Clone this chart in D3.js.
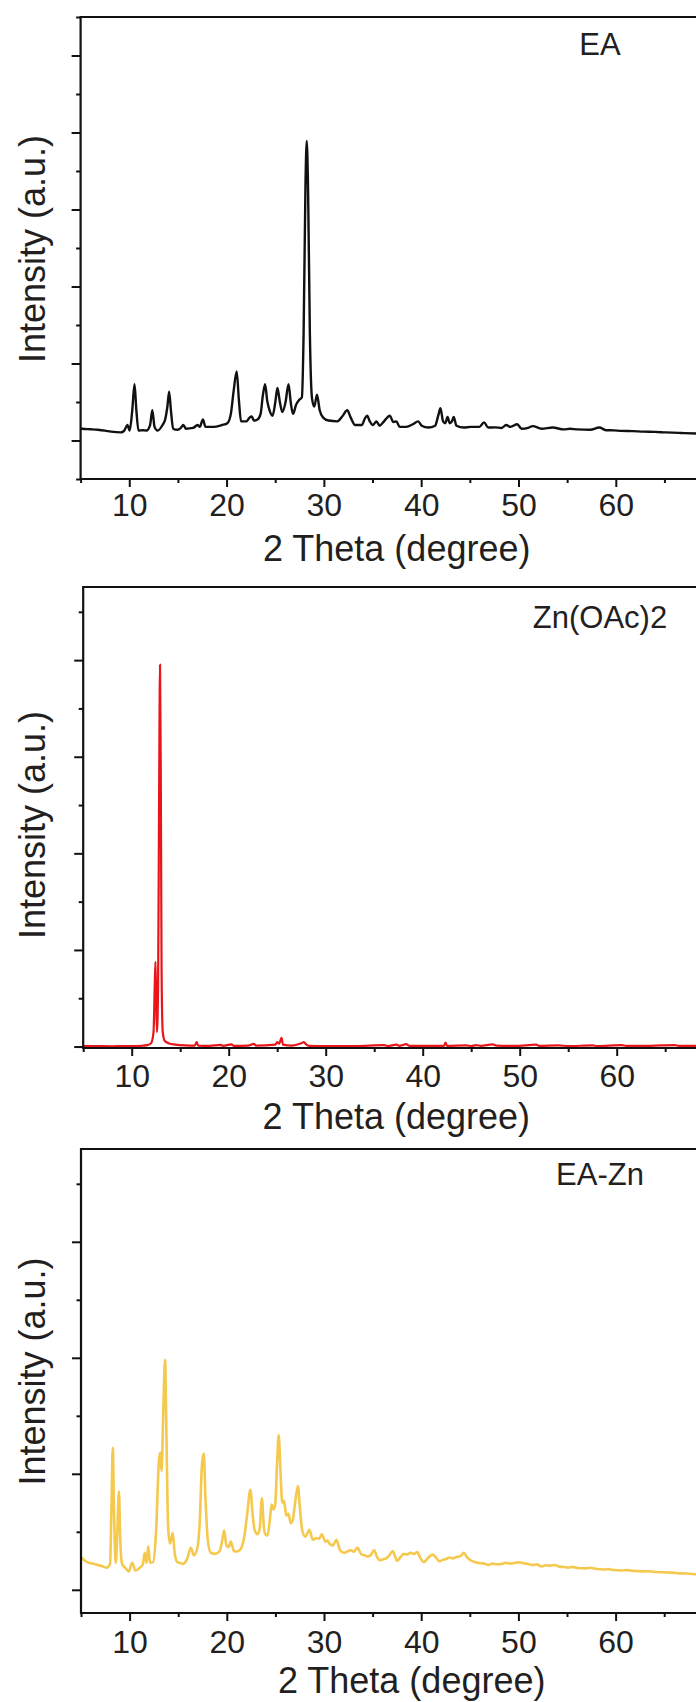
<!DOCTYPE html>
<html>
<head>
<meta charset="utf-8">
<script src="https://cdn.jsdelivr.net/npm/d3@7"></script>
<style>
  html, body { margin: 0; padding: 0; background: #ffffff; }
  svg { display: block; }
  text { font-family: "Liberation Sans", Arial, sans-serif; fill: #231f20; }
</style>
</head>
<body>
<svg id="chart" width="696" height="1702"></svg>
<script>
// Powder XRD patterns: [2θ (degree), intensity (a.u.)]
const sampleNames = ["EA", "Zn(OAc)2", "EA-Zn"];
const xTickValues = [10, 20, 30, 40, 50, 60];

const eaPattern = [
  [5.0,156],[5.16,153],[6.0,146],[6.76,139],[7.5,128],[8.13,115],[9.13,105],[9.49,129],[9.81,201],[10.04,129],
  [10.31,394],[10.54,730],[10.73,394],[10.95,129],[11.4,134],[11.77,129],[12.14,201],[12.37,394],
  [12.6,177],[12.92,129],[13.42,201],[13.69,273],[13.92,442],[14.1,634],[14.28,394],[14.51,153],
  [14.97,139],[15.29,163],[15.56,201],[15.83,153],[16.56,163],[17.02,201],[17.25,177],[17.57,273],
  [17.84,177],[18.62,177],[19.53,201],[20.08,225],[20.44,346],[20.72,634],[21.04,898],[21.26,538],
  [21.49,249],[22.04,249],[22.36,297],[22.59,312],[22.81,259],[23.18,273],[23.5,346],[23.73,586],
  [23.96,730],[24.18,514],[24.41,394],[24.73,322],[25.0,490],[25.23,682],[25.46,514],[25.73,370],
  [26.05,490],[26.37,730],[26.6,490],[26.83,346],[27.15,466],[27.47,528],[27.74,562],[27.92,1403],
  [28.11,3325],[28.24,3891],[28.38,3229],[28.56,1403],[28.79,538],[29.02,442],[29.29,595],[29.57,394],
  [29.93,297],[30.48,259],[31.39,249],[31.94,322],[32.4,394],[32.76,297],[33.22,201],[33.9,201],
  [34.22,288],[34.45,322],[34.72,249],[35.04,201],[35.41,249],[35.72,192],[36.18,249],[36.77,322],
  [37.14,240],[37.46,249],[37.78,177],[38.46,177],[39.15,211],[39.69,249],[40.06,192],[40.74,168],
  [41.43,192],[41.75,322],[41.98,418],[42.25,249],[42.48,225],[42.71,307],[42.93,225],[43.16,249],
  [43.34,307],[43.62,192],[44.39,168],[45.08,177],[45.99,177],[46.45,235],[46.9,168],[47.6,170],
  [48.27,163],[48.73,201],[49.18,177],[49.87,211],[50.32,153],[51.0,165],[51.47,187],[52.38,153],
  [53.52,168],[54.66,144],[55.3,152],[56.03,144],[57.39,139],[58.31,168],[58.99,134],[59.8,131],
  [60.59,125],[61.7,122],[62.87,115],[64.0,112],[65.15,105],[66.7,98],[68.25,91],[70.0,86]
];

const znPattern = [
  [5.0,5],[6.5,4],[8.0,3],[9.0,5],[10.0,5],[11.0,8],[11.6,15],[12.0,35],[12.25,150],[12.38,650],
  [12.45,877],[12.52,500],[12.6,150],[12.72,600],[12.82,2500],[12.92,3953],[13.0,2800],[13.08,800],
  [13.2,150],[13.4,60],[13.8,35],[14.5,20],[15.5,12],[16.5,10],[16.7,45],[16.85,10],[18.0,8],
  [19.2,18],[19.4,8],[20.3,22],[20.5,8],[22.0,10],[22.6,28],[22.8,10],[24.8,20],[25.0,45],
  [25.2,30],[25.45,90],[25.6,20],[26.5,10],[27.5,35],[27.75,45],[28.0,20],[28.3,8],[30.0,5],
  [33.0,5],[36.0,15],[36.4,5],[37.3,20],[37.6,8],[38.3,25],[38.6,8],[40.0,6],[42.2,8],[42.35,40],
  [42.5,8],[44.5,12],[45.0,5],[45.5,15],[46.0,6],[47.2,22],[47.6,10],[49.5,6],[51.7,20],[52.0,8],
  [54.0,12],[55.0,5],[57.5,12],[58.0,5],[60.5,15],[61.0,6],[63.5,8],[66.0,15],[66.4,6],[68.5,8],[70.0,6]
];

const eaZnPattern = [
  [5.0,280],[5.12,271],[5.45,248],[5.8,233],[6.2,226],[6.71,214],[7.1,206],[7.63,191],[7.99,223],
  [8.13,687],[8.27,1225],[8.4,655],[8.58,233],[8.72,463],[8.9,847],[9.04,431],[9.23,223],[9.55,190],
  [9.91,159],[10.27,233],[10.6,166],[11.05,191],[11.37,223],[11.55,319],[11.74,233],[11.92,374],
  [12.1,233],[12.42,239],[12.74,527],[13.01,1103],[13.15,1183],[13.29,1023],[13.47,1551],[13.65,1983],
  [13.79,1327],[13.97,527],[14.16,399],[14.43,489],[14.66,303],[14.93,239],[15.2,232],[15.48,223],
  [15.94,271],[16.3,361],[16.62,297],[16.99,367],[17.22,591],[17.44,1071],[17.63,1174],[17.81,783],
  [18.04,431],[18.36,319],[18.81,310],[19.27,335],[19.5,415],[19.73,511],[19.96,383],[20.18,367],
  [20.41,415],[20.73,335],[21.0,330],[21.32,341],[21.78,447],[22.1,655],[22.42,863],[22.65,655],
  [22.88,511],[23.15,479],[23.38,527],[23.61,789],[23.79,559],[23.97,479],[24.2,469],[24.43,607],
  [24.61,735],[24.8,693],[24.98,735],[25.16,1071],[25.34,1334],[25.53,1007],[25.71,751],[25.89,767],
  [26.12,639],[26.35,655],[26.58,575],[26.8,607],[27.03,751],[27.31,895],[27.54,687],[27.76,511],
  [28.08,457],[28.3,490],[28.49,517],[28.86,431],[29.23,447],[29.5,440],[29.77,479],[30.14,415],
  [30.35,425],[30.55,399],[30.92,383],[31.28,431],[31.6,351],[32.06,319],[32.4,330],[32.74,341],
  [33.06,329],[33.43,361],[33.88,303],[34.2,298],[34.48,287],[34.8,300],[35.16,341],[35.45,285],
  [35.71,255],[36.0,262],[36.4,271],[36.75,300],[37.08,335],[37.3,290],[37.54,249],[37.9,285],
  [38.22,310],[38.55,305],[38.9,319],[39.25,308],[39.59,326],[39.9,275],[40.27,239],[40.5,255],
  [40.73,277],[41.19,303],[41.5,280],[41.87,246],[42.2,258],[42.56,265],[42.9,278],[43.25,271],
  [43.6,283],[43.93,287],[44.15,298],[44.38,319],[44.7,282],[45.07,255],[45.5,240],[45.98,230],
  [46.4,228],[46.9,214],[47.3,226],[47.8,220],[48.27,223],[48.7,232],[49.2,226],[49.64,233],
  [50.1,236],[50.6,228],[51.01,223],[51.5,214],[51.9,219],[52.38,201],[52.8,212],[53.3,208],
  [53.75,214],[54.2,200],[54.7,196],[55.12,191],[55.6,198],[56.1,188],[56.94,185],[57.4,190],
  [57.9,181],[58.77,175],[59.3,178],[59.8,170],[60.6,166],[61.2,170],[61.8,163],[62.88,159],
  [63.5,160],[64.2,153],[65.16,150],[65.8,148],[66.6,142],[67.4,140],[68.27,134],[70.0,128]
];

// Panel frames (pixel layout of each stacked plot)
const panels = [
  { name: sampleNames[0], data: eaPattern, color: "#111111", width: 2.4,
    left: 80.6, right: 713.1, top: 17, bottom: 479,
    yDomain: [-500, 5500], yMajor: 1000,
    tickBase: 516, titleX: 396.7, titleBase: 560.5, yTitleMid: 249,
    labelBase: 55 },
  { name: sampleNames[1], data: znPattern, color: "#e8161b", width: 2.2,
    left: 83.2, right: 713.7, top: 587, bottom: 1048,
    yDomain: [-15, 4757], yMajor: 1000,
    tickBase: 1087, titleX: 396.3, titleBase: 1129, yTitleMid: 825,
    labelBase: 628 },
  { name: sampleNames[2], data: eaZnPattern, color: "#f5c94e", width: 2.6,
    left: 81, right: 712.8, top: 1149, bottom: 1613,
    yDomain: [-200, 3800], yMajor: 1000,
    tickBase: 1653, titleX: 411.7, titleBase: 1693, yTitleMid: 1371.5,
    labelBase: 1185 }
];

const svg = d3.select("#chart");
svg.append("rect").attr("width", 696).attr("height", 1702).attr("fill", "#ffffff");

panels.forEach(p => {
  const x = d3.scaleLinear().domain([5, 70]).range([p.left, p.right]);
  const y = d3.scaleLinear().domain(p.yDomain).range([p.bottom, p.top]);
  const g = svg.append("g");

  // clip the trace to the plot box
  const clipId = "clip-" + p.name.replace(/[^A-Za-z]/g, "");
  svg.append("clipPath").attr("id", clipId)
    .append("rect").attr("x", p.left).attr("y", p.top)
    .attr("width", p.right - p.left).attr("height", p.bottom - p.top);

  // diffraction trace
  const line = d3.line()
    .x(d => x(d[0])).y(d => y(d[1]))
    .curve(d3.curveMonotoneX);
  g.append("path")
    .datum(p.data)
    .attr("clip-path", `url(#${clipId})`)
    .attr("fill", "none")
    .attr("stroke", p.color)
    .attr("stroke-width", p.width)
    .attr("stroke-linejoin", "round")
    .attr("d", line);

  // x axis: labelled ticks every 10°, minor every 5°
  const xMinor = d3.range(5, 71, 5).filter(v => v % 10 !== 0);
  const xAxis = d3.axisBottom(x).tickValues(xTickValues).tickSize(8).tickFormat(d3.format("d"));
  const xAxisMinor = d3.axisBottom(x).tickValues(xMinor).tickSize(4).tickFormat("");
  const xAxisEnd = d3.axisBottom(x).tickValues([70]).tickSize(8).tickFormat("");
  const gx = g.append("g").attr("transform", `translate(0,${p.bottom})`).call(xAxis);
  g.append("g").attr("transform", `translate(0,${p.bottom})`).call(xAxisMinor);
  g.append("g").attr("transform", `translate(0,${p.bottom})`).call(xAxisEnd);
  gx.selectAll(".tick text")
    .attr("y", null).attr("dy", null)
    .attr("transform", `translate(0,${p.tickBase - p.bottom})`)
    .style("font-size", "32px").attr("fill", "#231f20");

  // y axis: unlabeled intensity ticks
  const yMajorTicks = d3.range(0, p.yDomain[1] + 1, p.yMajor);
  const yMinorTicks = d3.range(-p.yMajor / 2, p.yDomain[1] + 1, p.yMajor)
    .filter(v => v >= p.yDomain[0] - 1);
  const yAxis = d3.axisLeft(y).tickValues(yMajorTicks).tickSize(9).tickFormat("");
  const yAxisMinor = d3.axisLeft(y).tickValues(yMinorTicks).tickSize(4.5).tickFormat("");
  g.append("g").attr("transform", `translate(${p.left},0)`).call(yAxis);
  g.append("g").attr("transform", `translate(${p.left},0)`).call(yAxisMinor);

  g.selectAll(".domain").remove();
  g.selectAll(".tick line").attr("stroke", "#111").attr("stroke-width", 2);

  // plot frame: left, bottom and top edges (right edge lies beyond the page)
  g.append("path")
    .attr("d", `M${p.right},${p.top}H${p.left}V${p.bottom}H${p.right}`)
    .attr("fill", "none").attr("stroke", "#111").attr("stroke-width", 2.2);

  // axis titles
  g.append("text")
    .attr("x", p.titleX).attr("y", p.titleBase)
    .attr("text-anchor", "middle")
    .style("font-size", "36px")
    .text("2 Theta (degree)");
  g.append("text")
    .attr("transform", `translate(44.5,${p.yTitleMid}) rotate(-90)`)
    .attr("text-anchor", "middle")
    .style("font-size", "36px")
    .text("Intensity (a.u.)");

  // sample name
  g.append("text")
    .attr("x", 600).attr("y", p.labelBase)
    .attr("text-anchor", "middle")
    .style("font-size", "31px")
    .text(p.name);
});
</script>
</body>
</html>
